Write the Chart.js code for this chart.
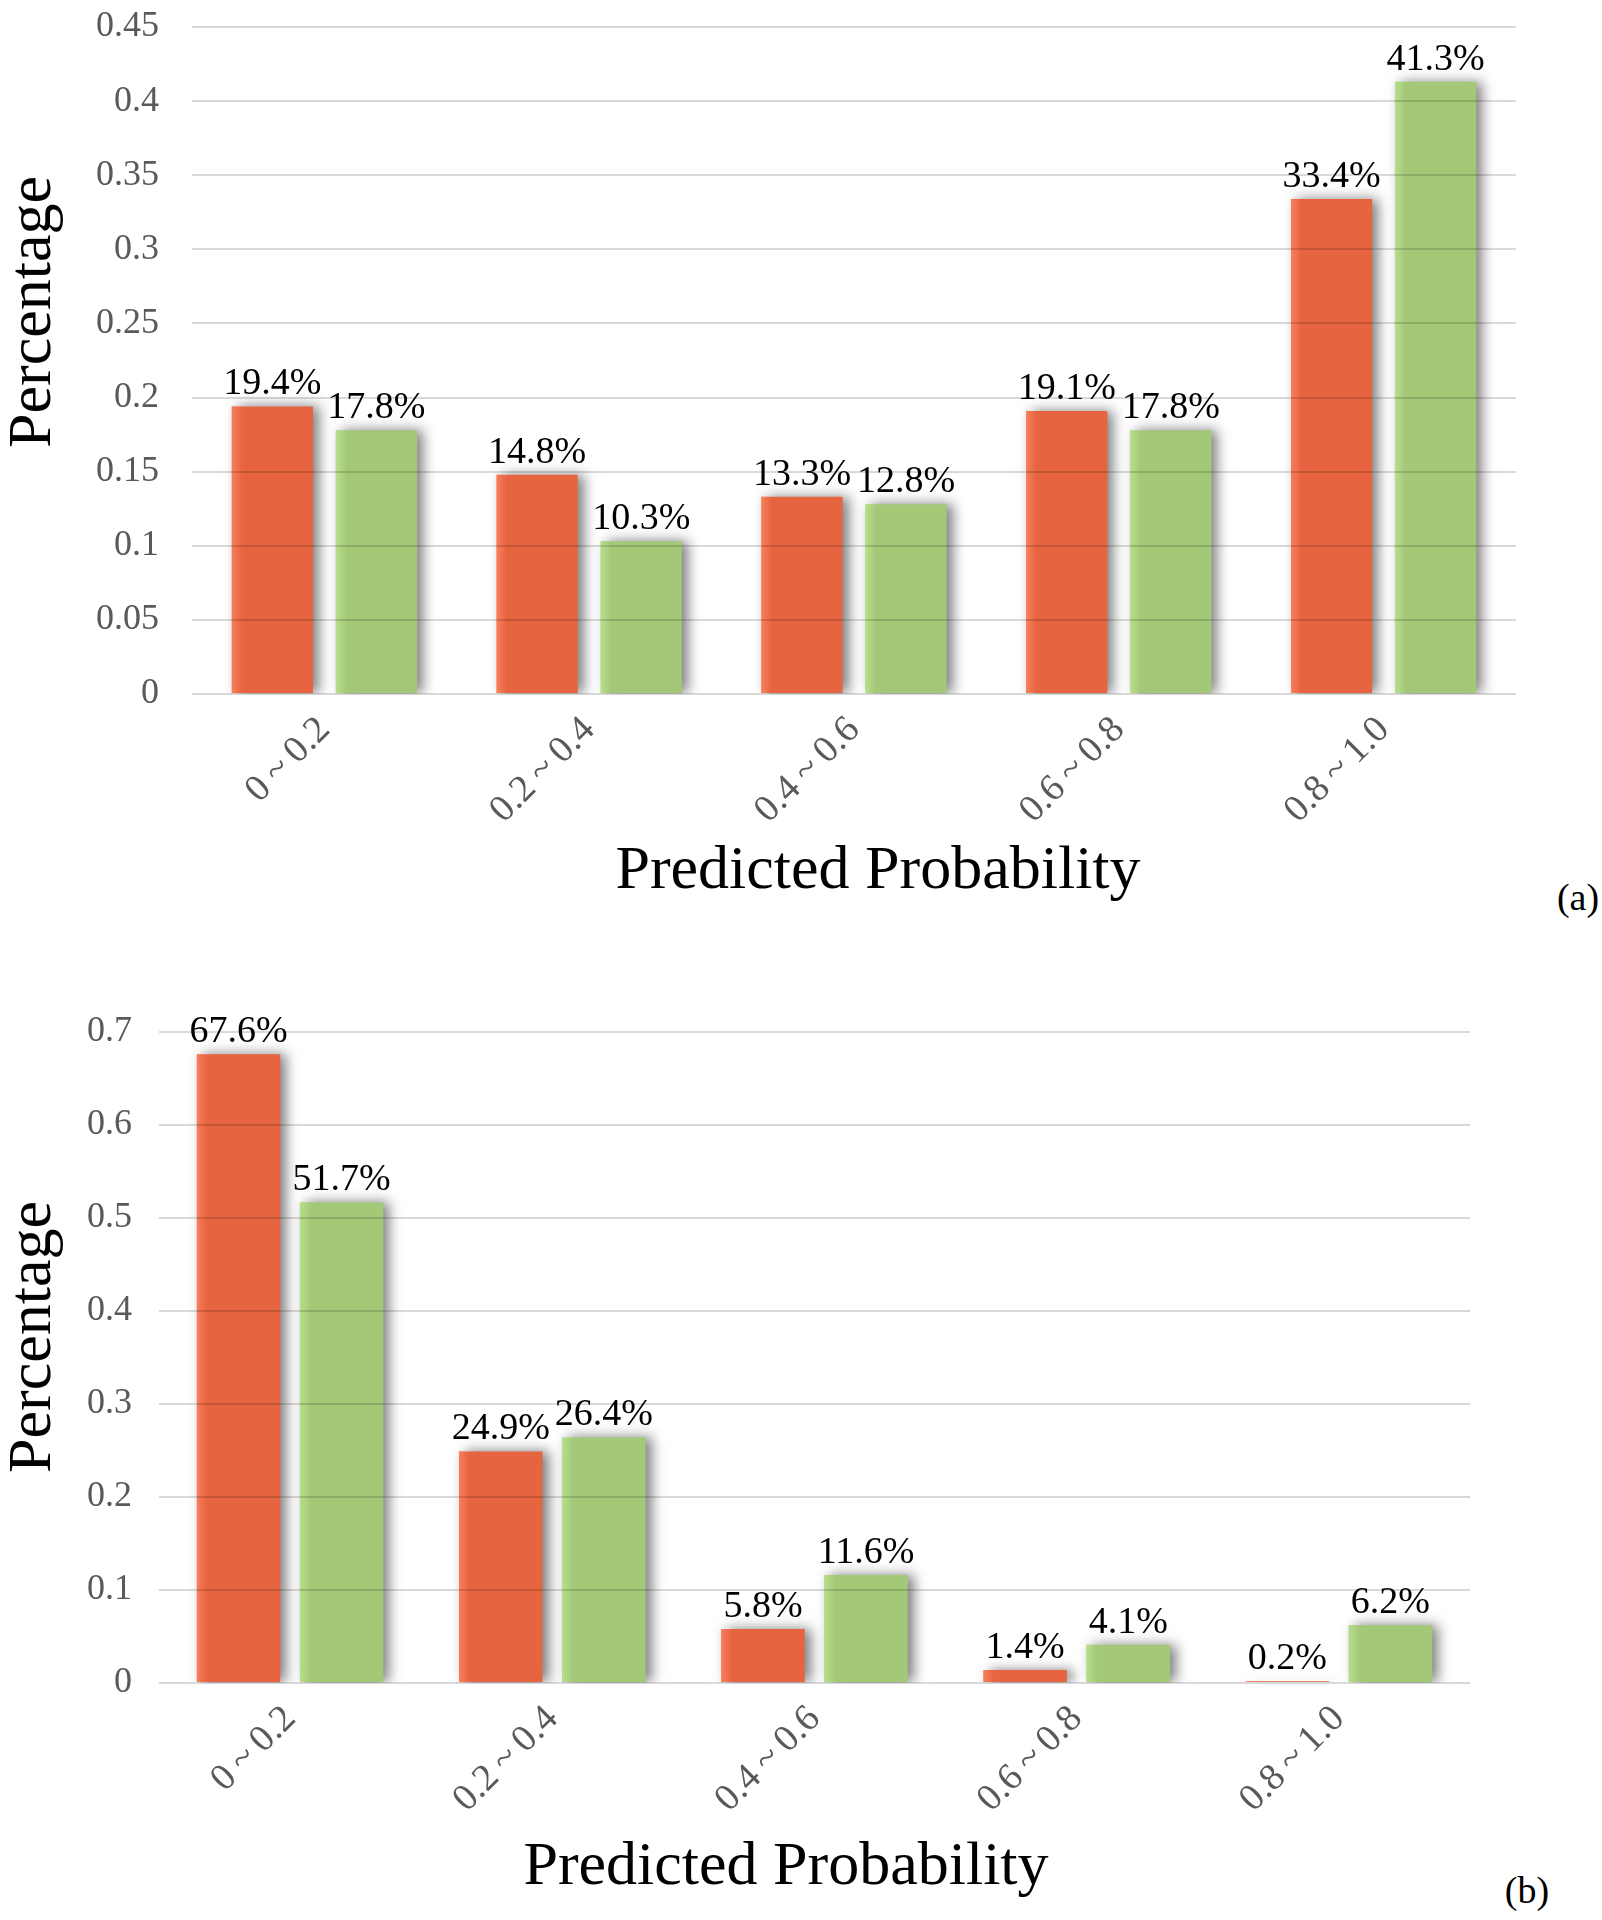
<!DOCTYPE html>
<html>
<head>
<meta charset="utf-8">
<script src="https://cdn.jsdelivr.net/npm/chart.js@4/dist/chart.umd.min.js"></script>
<style>
  body { margin: 0; background: #fff; width: 1602px; height: 1920px; position: relative; overflow: hidden; }
  .box { position: absolute; left: 0; width: 1602px; }
  .txt { position: absolute; font-family: "Liberation Serif", "Times New Roman", serif; color: #000; white-space: nowrap; line-height: 1; transform: translate(-50%, -50%); }
  .ytitle { transform: translate(-50%, -50%) rotate(-90deg); }
</style>
</head>
<body>
<div class="box" style="top:0;height:820px"><canvas id="chartA"></canvas></div>
<div class="box" style="top:930px;height:900px"><canvas id="chartB"></canvas></div>

<div class="txt ytitle" style="left:29px;top:312px;font-size:62px">Percentage</div>
<div class="txt" style="left:878px;top:867px;font-size:62px">Predicted Probability</div>
<div class="txt" style="left:1578px;top:897px;font-size:38px">(a)</div>

<div class="txt ytitle" style="left:29px;top:1337px;font-size:62px">Percentage</div>
<div class="txt" style="left:786px;top:1863px;font-size:62px">Predicted Probability</div>
<div class="txt" style="left:1527px;top:1890px;font-size:38px">(b)</div>

<script>
const categories = ['0\u2009~\u20090.2', '0.2\u2009~\u20090.4', '0.4\u2009~\u20090.6', '0.6\u2009~\u20090.8', '0.8\u2009~\u20091.0'];

// panel (a)
const redA = [0.194, 0.148, 0.133, 0.191, 0.334];
const greenA = [0.178, 0.103, 0.128, 0.178, 0.413];
const yTicksA = ['0', '0.05', '0.1', '0.15', '0.2', '0.25', '0.3', '0.35', '0.4', '0.45'];

// panel (b)
const redB = [0.676, 0.249, 0.058, 0.014, 0.002];
const greenB = [0.517, 0.264, 0.116, 0.041, 0.062];
const yTicksB = ['0', '0.1', '0.2', '0.3', '0.4', '0.5', '0.6', '0.7'];

const RED = '#e6643f';
const GREEN = '#a3c978';
const SERIF = 'Liberation Serif';

// soft shadow to the right of the bars, like the Excel original
const barShadow = {
    id: 'barShadow',
    beforeDatasetsDraw(chart) {
        const ctx = chart.ctx;
        ctx.save();
        ctx.shadowColor = 'rgba(0,0,0,0.5)';
        ctx.shadowBlur = 12;
        ctx.shadowOffsetX = 6;
        ctx.shadowOffsetY = 0;
    },
    afterDatasetsDraw(chart) {
        const ctx = chart.ctx;
        ctx.restore();

        // lighter band on the left side of each bar
        chart.data.datasets.forEach((ds, di) => {
            const light = di === 0 ? 'rgba(255,135,100,0.75)' : 'rgba(190,230,145,0.75)';
            const clear = di === 0 ? 'rgba(255,135,100,0)' : 'rgba(190,230,145,0)';
            chart.getDatasetMeta(di).data.forEach(bar => {
                const left = bar.x - bar.width / 2;
                const w = bar.width * 0.13;
                const g = ctx.createLinearGradient(left, 0, left + w, 0);
                g.addColorStop(0, light);
                g.addColorStop(1, clear);
                ctx.fillStyle = g;
                ctx.fillRect(left, bar.y, w, bar.base - bar.y);
            });
        });

        // value labels above the bars
        ctx.save();
        ctx.font = '38px "' + SERIF + '", serif';
        ctx.fillStyle = '#000';
        ctx.textAlign = 'center';
        ctx.textBaseline = 'alphabetic';
        chart.data.datasets.forEach((ds, di) => {
            chart.getDatasetMeta(di).data.forEach((bar, i) => {
                const text = (ds.data[i] * 100).toFixed(1) + '%';
                ctx.fillText(text, bar.x, bar.y - 12);
            });
        });
        ctx.restore();
    }
};

function makeChart(id, red, green, yMax, yStep, yTicks, opts) {
    const ctx = document.getElementById(id).getContext('2d');
    return new Chart(ctx, {
        type: 'bar',
        data: {
            labels: categories,
            datasets: [
                {
                    data: red,
                    backgroundColor: RED,
                    borderWidth: 0,
                    categoryPercentage: 0.786,
                    barPercentage: opts.barPct
                },
                {
                    data: green,
                    backgroundColor: GREEN,
                    borderWidth: 0,
                    categoryPercentage: 0.786,
                    barPercentage: opts.barPct
                }
            ]
        },
        options: {
            responsive: true,
            maintainAspectRatio: false,
            animation: false,
            layout: {
                padding: { top: opts.top, right: opts.right, left: 0, bottom: 0 }
            },
            plugins: {
                legend: { display: false },
                tooltip: { enabled: false }
            },
            scales: {
                x: {
                    grid: { display: false, drawTicks: false },
                    border: { display: false },
                    ticks: {
                        color: '#595959',
                        font: { family: SERIF, size: 38 },
                        maxRotation: 45,
                        minRotation: 45,
                        padding: 14
                    },
                    afterFit: scale => { scale.height = opts.xHeight; }
                },
                y: {
                    min: 0,
                    max: yMax,
                    grid: {
                        color: 'rgba(0,0,0,0.15)',
                        lineWidth: 2,
                        drawTicks: false,
                        z: 1
                    },
                    border: { display: false },
                    ticks: {
                        stepSize: yStep,
                        color: '#595959',
                        padding: opts.tickPad,
                        font: { family: SERIF, size: 36 },
                        callback: (value, index) => yTicks[index]
                    },
                    afterFit: scale => {
                        scale.width = opts.yWidth;
                        // layout padding already leaves room for the end labels
                        scale.paddingTop = 0;
                        scale.paddingBottom = 0;
                    }
                }
            }
        },
        plugins: [barShadow]
    });
}

function drawAll() {
    makeChart('chartA', redA, greenA, 0.45, 0.05, yTicksA, {
        top: 27, right: 86, yWidth: 192, xHeight: 126, tickPad: 33, barPct: 0.78
    });
    makeChart('chartB', redB, greenB, 0.7, 0.1, yTicksB, {
        top: 102, right: 132, yWidth: 159, xHeight: 147, tickPad: 27, barPct: 0.81
    });
}

// make sure the serif face is ready before the canvases draw text
Promise.all([
    document.fonts.load('36px "' + SERIF + '"'),
    document.fonts.load('38px "' + SERIF + '"')
]).then(drawAll, drawAll);
</script>
</body>
</html>
